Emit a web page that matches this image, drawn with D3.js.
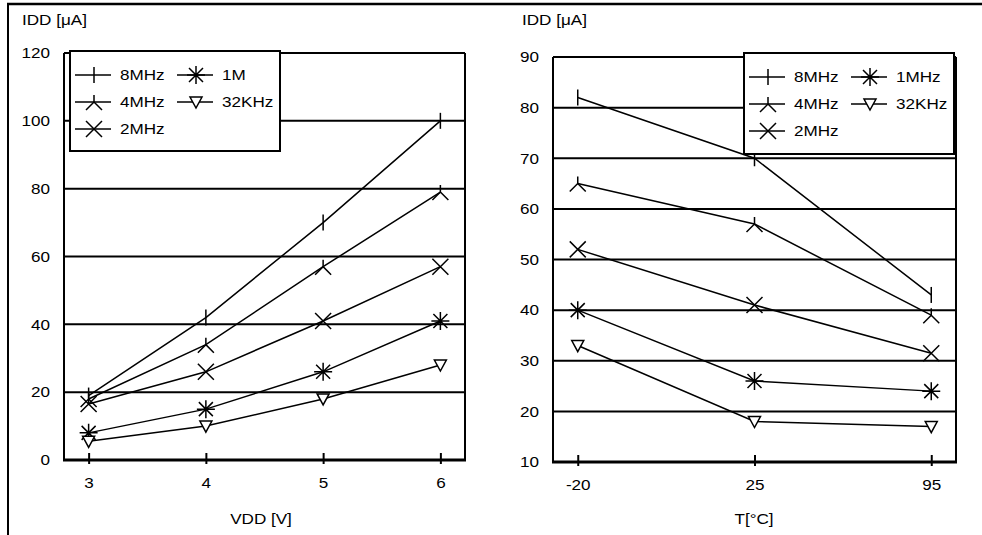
<!DOCTYPE html>
<html>
<head>
<meta charset="utf-8">
<script src="https://cdn.jsdelivr.net/npm/d3@7"></script>
<style>
  body { margin: 0; background: #fff; }
  svg { display: block; font-family: "Liberation Sans", Arial, sans-serif; }
</style>
</head>
<body>
<svg width="982" height="535"></svg>
<script>
// left panel: current vs supply voltage
const vddTicks = [3, 4, 5, 6];
const vddYTicks = [0, 20, 40, 60, 80, 100, 120];
const vddNames = ["8MHz", "4MHz", "2MHz", "1M", "32KHz"];
const vdd8M = [19, 42, 70, 100];
const vdd4M = [18, 34, 57, 79];
const vdd2M = [16.5, 26, 41, 57];
const vdd1M = [8, 15, 26, 41];
const vdd32K = [5.5, 10, 18, 28];

// right panel: current vs temperature
const tempTicks = ["-20", "25", "95"];
const tempYTicks = [10, 20, 30, 40, 50, 60, 70, 80, 90];
const tempNames = ["8MHz", "4MHz", "2MHz", "1MHz", "32KHz"];
const temp8M = [82, 70, 43];
const temp4M = [65, 57, 39];
const temp2M = [52, 41, 31.5];
const temp1M = [40, 26, 24];
const temp32K = [33, 18, 17];

const markerTypes = ["bar", "ylegs", "cross", "star", "tri"];

// the source text is a bit wide for its height
const SX = 1.14;
const FS = 15;
const FONT = "Liberation Sans, Arial, sans-serif";

const svg = d3.select("svg");

// outer frame (top and left only)
svg.append("line").attr("x1", 7).attr("x2", 982).attr("y1", 4).attr("y2", 4)
  .attr("stroke", "#000").attr("stroke-width", 2.5);
svg.append("line").attr("x1", 8).attr("x2", 8).attr("y1", 4).attr("y2", 535)
  .attr("stroke", "#000").attr("stroke-width", 2);

function label(parent, x, y, txt, anchor) {
  return parent.append("text")
    .attr("transform", `translate(${x},${y}) scale(${SX},1)`)
    .attr("text-anchor", anchor || "start")
    .attr("font-size", FS)
    .attr("font-family", FONT)
    .attr("fill", "#000")
    .text(txt);
}

function markerPath(type) {
  const p = d3.path();
  if (type === "bar") {
    p.moveTo(0, -8); p.lineTo(0, 8);
  } else if (type === "ylegs") {
    p.moveTo(0, -7); p.lineTo(0, 0);
    p.moveTo(-8, 8); p.lineTo(0, 0); p.lineTo(8, 8);
  } else if (type === "cross") {
    p.moveTo(-8, -8); p.lineTo(8, 8);
    p.moveTo(-8, 8); p.lineTo(8, -8);
  } else if (type === "star") {
    p.moveTo(-7, -7); p.lineTo(7, 7);
    p.moveTo(-7, 7); p.lineTo(7, -7);
    p.moveTo(0, -9); p.lineTo(0, 9);
    p.moveTo(-9, 0); p.lineTo(9, 0);
  } else {
    p.moveTo(-6, -5); p.lineTo(6, -5); p.lineTo(0, 6); p.closePath();
  }
  return p.toString();
}

function drawPanel(cfg) {
  const g = svg.append("g");

  const x = d3.scalePoint()
    .domain(cfg.cats)
    .range([cfg.x0, cfg.x1])
    .padding(cfg.pad);

  const y = d3.scaleLinear()
    .domain(cfg.yDomain)
    .range([cfg.yBot, cfg.yTop]);

  // horizontal grid
  g.selectAll(".grid")
    .data(cfg.yTicks)
    .enter()
    .append("line")
    .attr("x1", cfg.x0).attr("x2", cfg.x1)
    .attr("y1", d => y(d)).attr("y2", d => y(d))
    .attr("stroke", "#000").attr("stroke-width", 2);

  // frame left / right
  g.append("line").attr("x1", cfg.x0).attr("x2", cfg.x0)
    .attr("y1", y(cfg.yDomain[1])).attr("y2", cfg.yBot)
    .attr("stroke", "#000").attr("stroke-width", 2);
  g.append("line").attr("x1", cfg.x1).attr("x2", cfg.x1)
    .attr("y1", y(cfg.yDomain[1])).attr("y2", cfg.yBot)
    .attr("stroke", "#000").attr("stroke-width", 2);

  // y axis labels
  const yAxis = g.append("g")
    .attr("transform", `translate(${cfg.x0},0)`)
    .call(d3.axisLeft(y).tickValues(cfg.yTicks).tickSize(0).tickPadding(14));
  yAxis.select(".domain").remove();
  yAxis.selectAll("text")
    .attr("x", -14 / SX)
    .attr("transform", `scale(${SX},1)`)
    .attr("font-size", FS).attr("font-family", FONT)
    .attr("fill", "#000");

  // series
  const line = d3.line()
    .x((d, i) => x(cfg.cats[i]))
    .y(d => y(d));

  cfg.series.forEach((vals, si) => {
    g.append("path")
      .attr("d", line(vals))
      .attr("fill", "none")
      .attr("stroke", "#000")
      .attr("stroke-width", 1.5);

    g.selectAll(".m" + si)
      .data(vals)
      .enter()
      .append("path")
      .attr("transform", (d, i) => `translate(${x(cfg.cats[i])},${y(d)})`)
      .attr("d", markerPath(markerTypes[si]))
      .attr("fill", markerTypes[si] === "tri" ? "#fff" : "none")
      .attr("stroke", "#000")
      .attr("stroke-width", 1.5);
  });

  // x axis
  const xAxis = g.append("g")
    .attr("transform", `translate(0,${cfg.yBot})`)
    .call(d3.axisBottom(x).tickSize(0));
  xAxis.select(".domain").remove();
  xAxis.selectAll(".tick line")
    .attr("y1", -7).attr("y2", 4)
    .attr("stroke", "#000").attr("stroke-width", 2);
  xAxis.selectAll("text")
    .attr("y", 28).attr("dy", 0)
    .attr("transform", `scale(${SX},1)`)
    .attr("font-size", FS).attr("font-family", FONT)
    .attr("fill", "#000");
  g.append("line")
    .attr("x1", cfg.x0 - 1).attr("x2", cfg.x1 + 1)
    .attr("y1", cfg.yBot).attr("y2", cfg.yBot)
    .attr("stroke", "#000").attr("stroke-width", 3);

  // axis titles
  label(g, cfg.yTitle[0], cfg.yTitle[1], "IDD [μA]");
  label(g, cfg.xTitleX, 524, cfg.xTitle, "middle");

  // legend
  const lg = g.append("g").attr("transform", `translate(${cfg.legend[0]},${cfg.legend[1]})`);
  lg.append("rect")
    .attr("width", cfg.legend[2]).attr("height", cfg.legend[3])
    .attr("fill", "#fff").attr("stroke", "#000").attr("stroke-width", 2);

  cfg.names.forEach((name, i) => {
    const col = i < 3 ? 0 : 1;
    const row = i < 3 ? i : i - 3;
    const lx = col === 0 ? 5 : 107;
    const ly = 24 + row * 27;
    const item = lg.append("g").attr("transform", `translate(${lx},${ly})`);
    item.append("line")
      .attr("x1", 0).attr("x2", 36)
      .attr("stroke", "#000").attr("stroke-width", 1.5);
    item.append("path")
      .attr("transform", "translate(19,0)")
      .attr("d", markerPath(markerTypes[i]))
      .attr("fill", markerTypes[i] === "tri" ? "#fff" : "none")
      .attr("stroke", "#000").attr("stroke-width", 1.5);
    label(item, 45, 5, name);
  });
}

drawPanel({
  cats: vddTicks, pad: 0.21, x0: 64, x1: 465,
  yDomain: [0, 120], yTicks: vddYTicks, yTop: 53, yBot: 460,
  series: [vdd8M, vdd4M, vdd2M, vdd1M, vdd32K], names: vddNames,
  yTitle: [22, 25], xTitle: "VDD [V]", xTitleX: 261,
  legend: [70, 51, 210, 100]
});

drawPanel({
  cats: tempTicks, pad: 0.14, x0: 553, x1: 956,
  yDomain: [10, 90], yTicks: tempYTicks, yTop: 57, yBot: 462,
  series: [temp8M, temp4M, temp2M, temp1M, temp32K], names: tempNames,
  yTitle: [522, 25], xTitle: "T[°C]", xTitleX: 754,
  legend: [744, 53, 210, 101]
});
</script>
</body>
</html>
